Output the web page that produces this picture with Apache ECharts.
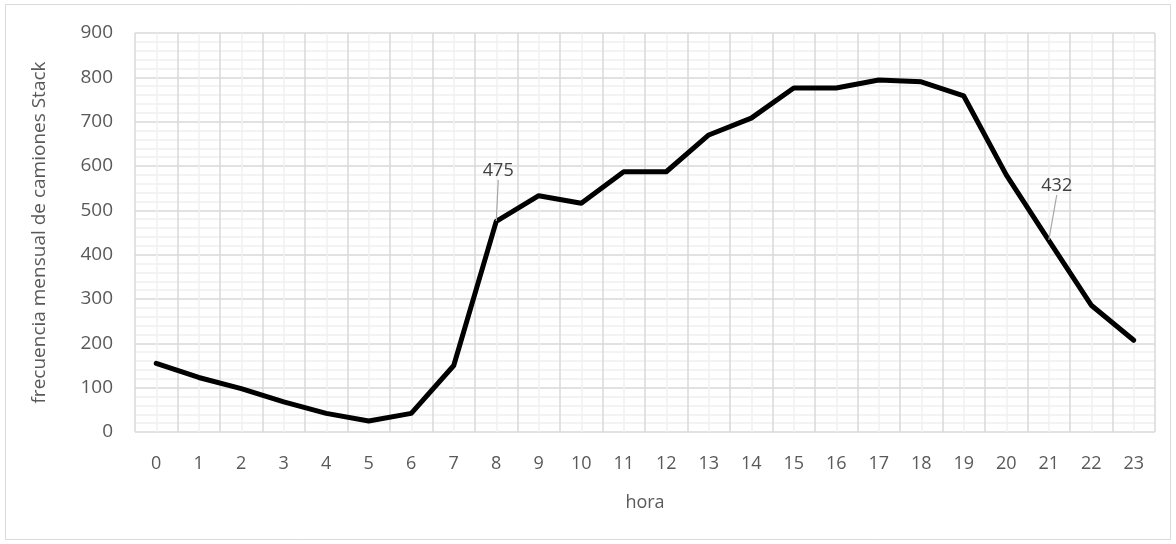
<!DOCTYPE html>
<html><head><meta charset="utf-8">
<script src="https://cdn.jsdelivr.net/npm/echarts@6/dist/echarts.min.js"></script>
<style>html,body{margin:0;padding:0;background:#fff}#c{width:1176px;height:544px}</style>
</head><body><div id="c"></div>
<script>
const hours = ['0','1','2','3','4','5','6','7','8','9','10','11','12','13','14','15','16','17','18','19','20','21','22','23'];
const values = [155,123,98,68,42,25,42,150,475,533,516,587,587,670,708,776,776,794,790,758,580,432,286,207];
const labeledIdx = [8, 21];
const yTicks = [0,100,200,300,400,500,600,700,800,900];
const xTitle = 'hora';
const yTitle = 'frecuencia mensual de camiones Stack';

const FONT = '"Open Sans", "Liberation Sans", sans-serif';
const chart = echarts.init(document.getElementById('c'), null, {renderer:'canvas'});
chart.setOption({
  animation:false,
  graphic:[{type:'rect',shape:{x:5.5,y:4.5,width:1165,height:535},style:{fill:'none',stroke:'#d9d9d9',lineWidth:1},silent:true,z:-1}],
  grid:{left:135,right:21,top:33,bottom:112},
  xAxis:[{
    type:'category',data:hours,boundaryGap:true,
    name:xTitle,nameLocation:'middle',nameGap:62,
    nameTextStyle:{color:'#595959',fontSize:18,fontFamily:FONT},
    axisLine:{show:false},axisTick:{show:false},
    axisLabel:{color:'#595959',fontSize:18,fontFamily:FONT,margin:23},
    splitLine:{show:false}
  },{
    type:'value',min:0,max:hours.length*2,interval:1,show:true,position:'top',
    axisLine:{show:false},axisTick:{show:false},axisLabel:{show:false},
    splitLine:{show:true,lineStyle:{color:['#d9d9d9','#f0f0f0'],width:1.5}}
  }],
  yAxis:{
    type:'value',min:yTicks[0],max:yTicks[yTicks.length-1],interval:100,
    name:yTitle,nameLocation:'middle',nameGap:86,nameRotate:90,
    nameTextStyle:{color:'#595959',fontSize:19,fontFamily:FONT},
    axisLine:{show:false},axisTick:{show:false},
    axisLabel:{color:'#595959',fontSize:19,fontFamily:FONT,margin:22},
    splitLine:{show:true,lineStyle:{color:'#d9d9d9',width:1.5}},
    minorTick:{show:false,splitNumber:5},
    minorSplitLine:{show:true,lineStyle:{color:'#f0f0f0',width:1.5}}
  },
  series:[{
    type:'line',xAxisIndex:0,data:values.map((v,i)=>labeledIdx.includes(i)?{value:v,label:{show:true}}:v),
    symbol:'circle',symbolSize:1,showSymbol:true,
    lineStyle:{color:'#000',width:5,join:'round',cap:'round'},
    itemStyle:{color:'#000'},
    label:{show:false,position:'top',color:'#404040',fontSize:18,fontFamily:FONT},
    labelLine:{show:true,lineStyle:{color:'#a6a6a6',width:1.2}},
    labelLayout:function(p){
      if(p.dataIndex===8) return {dx:2,dy:-36};
      if(p.dataIndex===21) return {dx:8,dy:-40};
      return {};
    }
  }]
});
</script></body></html>
